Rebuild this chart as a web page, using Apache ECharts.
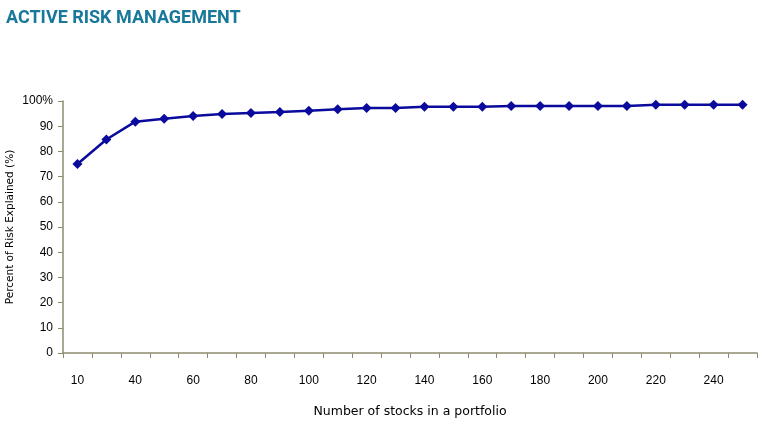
<!DOCTYPE html>
<html><head><meta charset="utf-8">
<script src="https://cdn.jsdelivr.net/npm/echarts@6/dist/echarts.min.js"></script>
<style>html,body{margin:0;padding:0;background:#fff}#c{width:764px;height:427px}</style>
</head><body><div id="c"></div>
<script>
var categories = ['10','20','40','50','60','70','80','90','100','110','120','130','140','150','160','170','180','190','200','210','220','230','240','250'];
var riskExplained = [75,84.7,91.8,93,94,94.8,95.2,95.6,96.1,96.7,97.2,97.2,97.7,97.7,97.7,98,98,98,98,98,98.5,98.5,98.5,98.5];
var yTicks = {min:0, max:100, interval:10};
var chart = echarts.init(document.getElementById('c'));
var axisCol = '#8c8c6c';
chart.setOption({
  animation:false,
  title:{text:'ACTIVE RISK MANAGEMENT', left:1, top:4,
    textStyle:{color:'#17789a', fontFamily:'Roboto', fontWeight:'bold', fontSize:18}},
  grid:{left:63, right:7, top:101, bottom:74, containLabel:false, outerBoundsMode:'none'},
  xAxis:{type:'category', data:categories, boundaryGap:true,
    name:'Number of stocks in a portfolio', nameLocation:'middle', nameGap:52,
    nameTextStyle:{fontFamily:'DejaVu Sans', fontSize:12.5, color:'#000'},
    axisLine:{lineStyle:{color:axisCol, width:1.5}},
    axisTick:{show:true, interval:0, length:5, inside:false, lineStyle:{color:axisCol}},
    axisLabel:{interval:1, margin:22, fontFamily:'Liberation Sans', fontSize:12, color:'#000'},
    splitLine:{show:false}},
  yAxis:{type:'value', min:yTicks.min, max:yTicks.max, interval:yTicks.interval,
    name:'Percent of Risk Explained (%)', nameLocation:'middle', nameGap:47, nameMoveOverlap:false,
    nameTextStyle:{fontFamily:'DejaVu Sans', fontSize:10.5, color:'#000'},
    axisLine:{show:true, lineStyle:{color:axisCol, width:1.5}},
    axisTick:{show:true, length:5, lineStyle:{color:axisCol}},
    axisLabel:{margin:10, fontFamily:'Liberation Sans', fontSize:12, color:'#000',
      formatter:function(v){return v===100?'100%':String(v);}},
    splitLine:{show:false}},
  series:[{type:'line', data:riskExplained, symbol:'diamond', symbolSize:10,
    lineStyle:{color:'#0a0a9c', width:2.5}, itemStyle:{color:'#0a0a9c'}}]
});
</script></body></html>
